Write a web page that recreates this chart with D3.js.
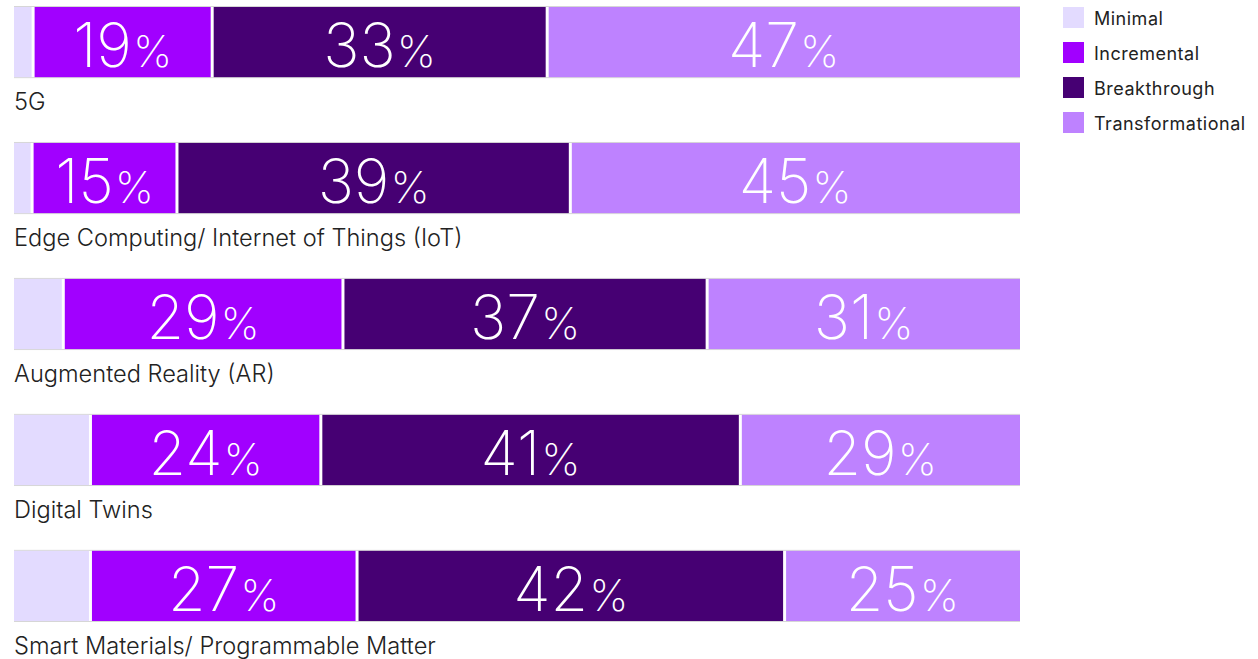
<!DOCTYPE html>
<html>
<head>
<meta charset="utf-8">
<script src="https://cdn.jsdelivr.net/npm/d3@7"></script>
<style>
  body { margin: 0; background: #fff; }
  svg { display: block; font-family: Inter, 'Noto Sans', sans-serif; }
</style>
</head>
<body>
<svg id="chart" width="1258" height="659"></svg>
<script>
// data
var categories = ['5G', 'Edge Computing/ Internet of Things (IoT)', 'Augmented Reality (AR)', 'Digital Twins', 'Smart Materials/ Programmable Matter'];
var series = ['Minimal', 'Incremental', 'Breakthrough', 'Transformational'];
var minimal = [1.9, 1.8, 4.9, 7.6, 7.6];
var incremental = [17.8, 14.4, 27.8, 22.9, 26.5];
var breakthrough = [33.3, 39.1, 36.2, 41.7, 42.5];
var transformational = [47.0, 44.7, 31.1, 27.8, 23.4];
// labels as printed on the bars
var incrementalLabels = [19, 15, 29, 24, 27];
var breakthroughLabels = [33, 39, 37, 41, 42];
var transformationalLabels = [47, 45, 31, 29, 25];
var colors = ['#e3dbff', '#a100ff', '#460073', '#be82ff'];

var svg = d3.select('#chart');

var x = d3.scaleLinear().domain([0, 100]).range([14, 1020]);
var y = d3.scaleBand().domain(categories).range([7, 621]).paddingInner(0.484).paddingOuter(0);
var color = d3.scaleOrdinal().domain(series).range(colors);

var rows = categories.map(function (c, i) {
  var vals = [minimal[i], incremental[i], breakthrough[i], transformational[i]];
  var labels = [null, incrementalLabels[i], breakthroughLabels[i], transformationalLabels[i]];
  var total = d3.sum(vals);
  var acc = 0;
  var segs = vals.map(function (v, j) {
    var s = { key: series[j], x0: acc / total * 100, x1: (acc + v) / total * 100, label: labels[j], cat: c };
    acc += v;
    return s;
  });
  return { cat: c, segs: segs };
});

var row = svg.append('g').selectAll('g').data(rows).enter().append('g')
  .attr('transform', function (d) { return 'translate(0,' + y(d.cat) + ')'; });

var bw = y.bandwidth();

// thin grey edge lines above and below each bar
row.append('line').attr('x1', x(0)).attr('x2', x(100)).attr('y1', -0.5).attr('y2', -0.5)
  .attr('stroke', '#d6d6d6');
row.append('line').attr('x1', x(0)).attr('x2', x(100)).attr('y1', bw + 0.5).attr('y2', bw + 0.5)
  .attr('stroke', '#d6d6d6');

var gap = 1.5;
row.selectAll('rect').data(function (d) { return d.segs; }).enter().append('rect')
  .attr('x', function (d, j) { return x(d.x0) + (j > 0 ? gap : 0); })
  .attr('width', function (d, j) {
    return x(d.x1) - x(d.x0) - (j > 0 ? gap : 0) - (j < 3 ? gap : 0);
  })
  .attr('y', 0)
  .attr('height', bw)
  .attr('fill', function (d) { return color(d.key); });

var lab = row.selectAll('text.val').data(function (d) {
  return d.segs.filter(function (s) { return s.label != null; });
}).enter().append('text')
  .attr('class', 'val')
  .attr('x', function (d) { return (x(d.x0) + x(d.x1)) / 2; })
  .attr('y', 60)
  .attr('text-anchor', 'middle')
  .attr('fill', '#fff')
  .attr('font-weight', 200);
lab.append('tspan').attr('font-size', 61).text(function (d) { return d.label; });
lab.append('tspan').attr('font-size', 44).attr('dx', 1).text('%');

// category labels under each bar
row.append('text')
  .attr('x', 14)
  .attr('y', bw + 33)
  .attr('font-size', 23.6)
  .attr('font-weight', 300)
  .attr('fill', '#222')
  .text(function (d) { return d.cat; });

// legend
var legend = svg.append('g').selectAll('g').data(series).enter().append('g')
  .attr('transform', function (d, i) { return 'translate(1063,' + (7 + i * 35) + ')'; });
legend.append('rect').attr('width', 21).attr('height', 21).attr('fill', function (d) { return color(d); });
legend.append('text')
  .attr('x', 31)
  .attr('y', 17.5)
  .attr('font-size', 18)
  .attr('letter-spacing', 0.5)
  .attr('fill', '#222')
  .text(function (d) { return d; });
</script>
</body>
</html>
